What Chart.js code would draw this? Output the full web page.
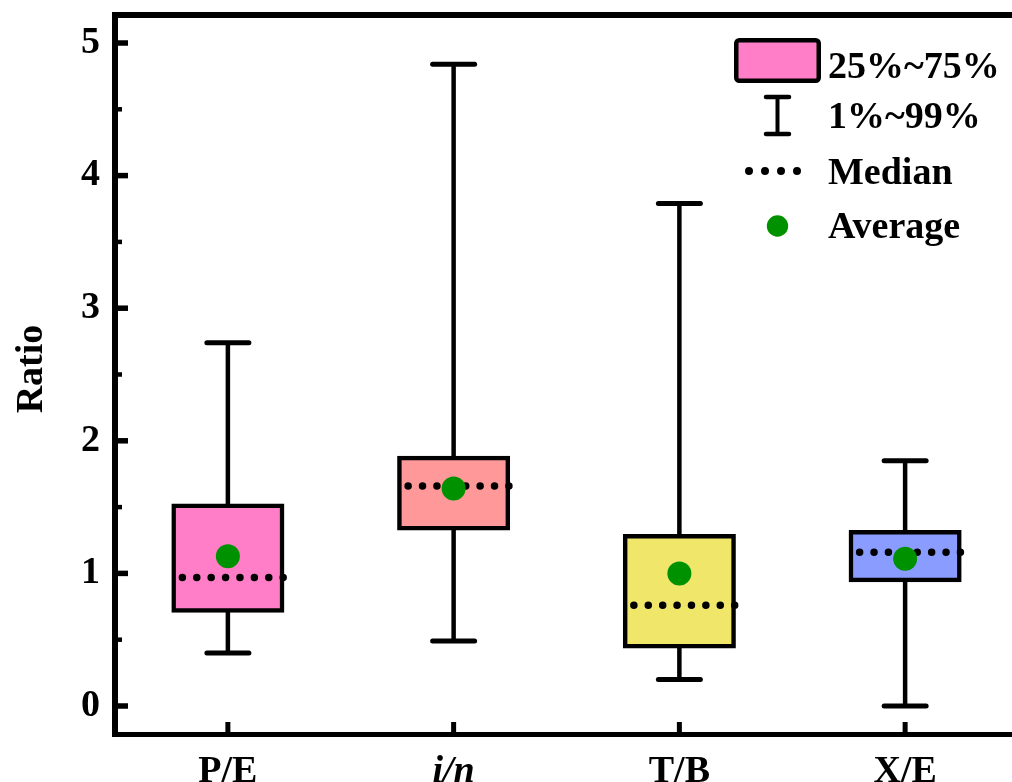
<!DOCTYPE html>
<html>
<head>
<meta charset="utf-8">
<script src="https://cdn.jsdelivr.net/npm/chart.js@4.4.1/dist/chart.umd.min.js"></script>
<style>
  html, body { margin: 0; padding: 0; background: #fff; overflow: hidden; }
  #wrap { width: 1012px; height: 782px; overflow: hidden; }
</style>
</head>
<body>
<div id="wrap"><canvas id="c" width="1030" height="782"></canvas></div>
<script>
// Ratio distributions per indicator
const categories = ['P/E', 'i/n', 'T/B', 'X/E'];
const q1     = [0.72, 1.34, 0.45, 0.95];   // 25th percentile
const q3     = [1.51, 1.87, 1.28, 1.31];   // 75th percentile
const median = [0.97, 1.66, 0.76, 1.16];
const mean   = [1.13, 1.64, 1.00, 1.11];
const p01    = [0.40, 0.49, 0.20, 0.00];   // 1st percentile
const p99    = [2.74, 4.84, 3.79, 1.85];   // 99th percentile
const yTicks = [0, 1, 2, 3, 4, 5];
const yMinorTicks = [0.5, 1.5, 2.5, 3.5, 4.5];
const legendLabels = ['25%~75%', '1%~99%', 'Median', 'Average'];

const boxColors = ['#FF7EC7', '#FF9999', '#F0E66A', '#8A9CFF'];
const avgColor = '#009100';
const FONT = "'Liberation Serif', 'Times New Roman', serif";
const FONT_SIZE = 38;

function boldFont(size, italic) {
  return (italic ? 'italic ' : '') + 'bold ' + size + 'px ' + FONT;
}

// Whiskers, median dots, frame, axis ticks, axis title and legend
const boxPlotParts = {
  id: 'boxPlotParts',
  beforeDatasetsDraw(chart) {
    const ctx = chart.ctx, xs = chart.scales.x, ys = chart.scales.y;
    ctx.save();
    ctx.strokeStyle = '#000';
    categories.forEach((c, i) => {
      const px = xs.getPixelForValue(i);
      const top = ys.getPixelForValue(p99[i]);
      const bot = ys.getPixelForValue(p01[i]);
      ctx.lineCap = 'butt';
      ctx.lineWidth = 4.5;
      ctx.beginPath();
      ctx.moveTo(px, top);
      ctx.lineTo(px, bot);
      ctx.stroke();
      ctx.lineCap = 'round';
      ctx.lineWidth = 5;
      [top, bot].forEach(py => {
        ctx.beginPath();
        ctx.moveTo(px - 21, py);
        ctx.lineTo(px + 21, py);
        ctx.stroke();
      });
    });
    ctx.restore();
  },
  afterDatasetDraw(chart, args) {
    if (args.index !== 0) return;
    const ctx = chart.ctx, xs = chart.scales.x, ys = chart.scales.y;
    ctx.save();
    ctx.strokeStyle = '#000';
    ctx.lineCap = 'round';
    ctx.lineWidth = 7.5;
    ctx.setLineDash([0, 14.4]);
    categories.forEach((c, i) => {
      const px = xs.getPixelForValue(i);
      const py = ys.getPixelForValue(median[i]);
      ctx.beginPath();
      ctx.moveTo(px - 45.5, py);
      ctx.lineTo(px + 56, py);
      ctx.stroke();
    });
    ctx.restore();
  },
  afterDraw(chart) {
    const ctx = chart.ctx, xs = chart.scales.x, ys = chart.scales.y;
    const area = chart.chartArea;
    const W = chart.width;
    ctx.save();
    ctx.strokeStyle = '#000';
    ctx.lineCap = 'butt';

    // frame
    ctx.lineWidth = 6;
    ctx.beginPath();
    ctx.moveTo(area.left, area.top - 3);
    ctx.lineTo(area.left, area.bottom + 3);
    ctx.stroke();
    ctx.beginPath();
    ctx.moveTo(area.left - 3, area.top);
    ctx.lineTo(W, area.top);
    ctx.stroke();
    ctx.lineWidth = 5;
    ctx.beginPath();
    ctx.moveTo(area.left - 3, area.bottom + 0.5);
    ctx.lineTo(W, area.bottom + 0.5);
    ctx.stroke();

    // y ticks (inward)
    ctx.lineWidth = 5.5;
    yTicks.forEach(v => {
      const py = ys.getPixelForValue(v);
      ctx.beginPath();
      ctx.moveTo(area.left + 2, py);
      ctx.lineTo(area.left + 13, py);
      ctx.stroke();
    });
    ctx.lineWidth = 4.5;
    yMinorTicks.forEach(v => {
      const py = ys.getPixelForValue(v);
      ctx.beginPath();
      ctx.moveTo(area.left + 2, py);
      ctx.lineTo(area.left + 7, py);
      ctx.stroke();
    });
    // x ticks (inward)
    ctx.lineWidth = 5;
    categories.forEach((c, i) => {
      const px = xs.getPixelForValue(i);
      ctx.beginPath();
      ctx.moveTo(px, area.bottom - 1);
      ctx.lineTo(px, area.bottom - 12);
      ctx.stroke();
    });

    // y axis title
    ctx.fillStyle = '#000';
    ctx.font = boldFont(FONT_SIZE);
    ctx.save();
    ctx.translate(42, 369);
    ctx.rotate(-Math.PI / 2);
    ctx.textAlign = 'center';
    ctx.textBaseline = 'alphabetic';
    ctx.fillText('Ratio', 0, 0);
    ctx.restore();

    // legend
    ctx.lineWidth = 4.5;
    ctx.fillStyle = boxColors[0];
    ctx.beginPath();
    ctx.roundRect(736.25, 40.25, 82.5, 40.5, 3);
    ctx.fill();
    ctx.stroke();

    ctx.lineWidth = 4;
    ctx.beginPath();
    ctx.moveTo(777.5, 97);
    ctx.lineTo(777.5, 134);
    ctx.stroke();
    ctx.lineCap = 'round';
    ctx.lineWidth = 4.5;
    [97, 134].forEach(py => {
      ctx.beginPath();
      ctx.moveTo(766, py);
      ctx.lineTo(789, py);
      ctx.stroke();
    });

    ctx.lineWidth = 8;
    ctx.setLineDash([0, 16]);
    ctx.beginPath();
    ctx.moveTo(749, 171);
    ctx.lineTo(798, 171);
    ctx.stroke();
    ctx.setLineDash([]);

    ctx.fillStyle = avgColor;
    ctx.beginPath();
    ctx.arc(777.5, 226, 10.7, 0, Math.PI * 2);
    ctx.fill();

    ctx.fillStyle = '#000';
    ctx.font = boldFont(FONT_SIZE);
    ctx.textAlign = 'left';
    ctx.textBaseline = 'alphabetic';
    const baselines = [78, 128, 184, 238];
    legendLabels.forEach((t, i) => ctx.fillText(t, 828, baselines[i]));
    ctx.restore();
  }
};

new Chart(document.getElementById('c'), {
  type: 'bar',
  data: {
    labels: categories,
    datasets: [
      {
        type: 'bar',
        label: '25%~75%',
        data: categories.map((c, i) => [q1[i], q3[i]]),
        backgroundColor: boxColors,
        borderColor: '#000',
        borderWidth: 4.5,
        borderSkipped: false,
        barThickness: 108.5,
        inflateAmount: 2.25,
        grouped: false,
        order: 2
      },
      {
        type: 'line',
        label: 'Average',
        data: mean,
        showLine: false,
        pointRadius: 12,
        pointHoverRadius: 12,
        pointBackgroundColor: avgColor,
        pointBorderWidth: 0,
        order: 1
      }
    ]
  },
  options: {
    responsive: false,
    animation: false,
    events: [],
    layout: { padding: { left: 0, top: 15, right: 10, bottom: 0 } },
    plugins: { legend: { display: false }, tooltip: { enabled: false } },
    scales: {
      x: {
        type: 'category',
        offset: true,
        grid: { display: false, drawTicks: false },
        border: { display: false },
        afterFit(scale) {
          scale.height = 48;
          scale.paddingLeft = 0;
          scale.paddingRight = 0;
        },
        ticks: {
          color: '#000',
          padding: 15,
          autoSkip: false,
          maxRotation: 0,
          font: (ctx) => ({
            family: FONT,
            size: FONT_SIZE,
            weight: 'bold',
            style: ctx.index === 1 ? 'italic' : 'normal'
          })
        }
      },
      y: {
        min: -0.2112,
        max: 5.2112,
        grid: { display: false, drawTicks: false },
        border: { display: false },
        afterFit(scale) {
          scale.width = 115;
          scale.paddingTop = 0;
          scale.paddingBottom = 0;
        },
        afterBuildTicks(scale) { scale.ticks = yTicks.map(v => ({ value: v })); },
        ticks: {
          color: '#000',
          padding: 15,
          font: { family: FONT, size: FONT_SIZE, weight: 'bold' }
        }
      }
    }
  },
  plugins: [boxPlotParts]
});
</script>
</body>
</html>
